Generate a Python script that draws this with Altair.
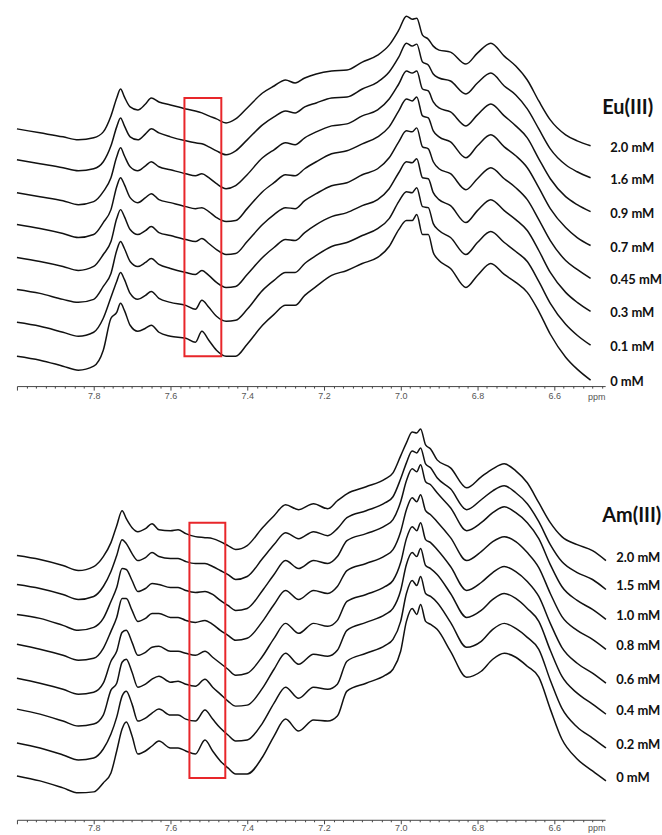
import altair as alt
import pandas as pd

# ---------------- Eu(III) panel data ----------------
EU_PPM = [8.00, 7.94, 7.88, 7.84, 7.80, 7.775, 7.755, 7.74, 7.73, 7.72, 7.705, 7.685, 7.665, 7.65, 7.63,
          7.60, 7.56, 7.535, 7.518, 7.50, 7.48, 7.455, 7.43, 7.40, 7.36, 7.33, 7.30, 7.275, 7.25, 7.22,
          7.18, 7.14, 7.10, 7.06, 7.03, 7.005, 6.985, 6.97, 6.958, 6.943, 6.928, 6.915, 6.90, 6.87, 6.83,
          6.80, 6.765, 6.73, 6.70, 6.67, 6.64, 6.61, 6.57, 6.54, 6.505]
EU_LABELS = ["2.0 mM", "1.6 mM", "0.9 mM", "0.7 mM", "0.45 mM", "0.3 mM", "0.1 mM", "0 mM"]
EU_OFFSETS = [241, 209, 175, 141, 108, 75, 41, 6]
EU_2_0 = [17, 13, 9, 6, 8, 14, 30, 48, 57, 49, 39, 36, 42, 48, 44, 41, 37, 35, 33, 30, 27, 23, 27, 38, 53,
          60, 66, 63, 68, 72, 75, 76, 84, 91, 101, 116, 130, 127, 128, 111, 107, 100, 96, 94, 82, 93, 103,
          90, 80, 66, 45, 26, 11, 5, 0]
EU_1_6 = [18, 14, 10, 7, 9, 16, 32, 51, 60, 52, 41, 38, 44, 49, 45, 41, 37, 35, 34, 31, 27, 23, 27, 38, 53,
          61, 67, 65, 71, 75, 80, 81, 89, 96, 106, 121, 135, 132, 134, 116, 113, 104, 100, 97, 84, 95, 105,
          92, 83, 69, 49, 29, 13, 6, 0]
EU_0_9 = [19, 15, 11, 7, 10, 20, 34, 55, 64, 56, 45, 41, 46, 50, 45, 42, 38, 36, 38, 34, 28, 23, 26, 37, 54,
          62, 69, 67, 74, 80, 86, 88, 96, 102, 113, 128, 141, 139, 141, 123, 121, 110, 104, 100, 86, 97, 108,
          96, 86, 74, 53, 33, 15, 7, 0]
EU_0_7 = [21, 17, 12, 8, 11, 23, 36, 59, 68, 61, 48, 43, 48, 52, 46, 43, 39, 37, 38, 34, 28, 24, 25, 37, 54,
          63, 71, 70, 77, 84, 92, 95, 102, 109, 119, 135, 147, 145, 149, 130, 128, 115, 109, 104, 88, 100, 111,
          99, 90, 78, 58, 37, 18, 8, 0]
EU_0_45 = [21, 17, 12, 8, 12, 24, 37, 60, 69, 62, 49, 44, 48, 52, 46, 43, 39, 37, 40, 35, 29, 24, 25, 37, 54,
           64, 71, 70, 78, 85, 93, 96, 104, 110, 121, 137, 148, 147, 151, 132, 130, 117, 110, 105, 89, 100, 111,
           100, 91, 79, 59, 38, 18, 9, 0]
EU_0_3 = [22, 18, 12, 9, 12, 25, 38, 61, 70, 63, 50, 45, 49, 53, 47, 43, 39, 37, 41, 36, 29, 24, 25, 37, 54,
          64, 72, 71, 79, 87, 95, 99, 106, 112, 123, 139, 150, 149, 153, 134, 133, 119, 112, 106, 89, 101, 112,
          101, 92, 81, 61, 39, 19, 9, 0]
EU_0_1 = [23, 19, 13, 9, 13, 27, 48, 64, 73, 66, 52, 46, 50, 54, 47, 43, 40, 36, 45, 38, 29, 24, 25, 36, 55,
          65, 73, 73, 82, 90, 99, 103, 110, 117, 127, 144, 154, 153, 158, 139, 138, 122, 115, 108, 91, 103, 114,
          103, 94, 84, 64, 42, 21, 10, 0]
EU_0 = [24, 20, 14, 10, 14, 30, 62, 68, 77, 70, 55, 49, 52, 55, 48, 44, 42, 38, 49, 40, 30, 24, 24, 36, 55,
        66, 75, 75, 85, 94, 105, 110, 117, 123, 134, 151, 160, 160, 166, 146, 146, 128, 120, 112, 93, 105, 117,
        106, 98, 88, 69, 46, 23, 11, 0]
EU_SPECTRA = [EU_2_0, EU_1_6, EU_0_9, EU_0_7, EU_0_45, EU_0_3, EU_0_1, EU_0]
EU_BOX_PPM = [7.5635, 7.4674]
EU_BOX_INT = [30, 289]

# ---------------- Am(III) panel data ----------------
AM_PPM = [8.00, 7.94, 7.88, 7.84, 7.80, 7.775, 7.755, 7.74, 7.726, 7.715, 7.70, 7.685, 7.665, 7.648, 7.63,
          7.60, 7.58, 7.56, 7.535, 7.51, 7.49, 7.47, 7.45, 7.43, 7.40, 7.36, 7.33, 7.30, 7.266, 7.227,
          7.19, 7.165, 7.14, 7.09, 7.04, 7.02, 7.00, 6.985, 6.97, 6.958, 6.948, 6.935, 6.922, 6.905, 6.87,
          6.828, 6.79, 6.76, 6.73, 6.70, 6.67, 6.64, 6.61, 6.58, 6.54, 6.50, 6.465]
AM_LABELS = ["2.0 mM", "1.5 mM", "1.0 mM", "0.8 mM", "0.6 mM", "0.4 mM", "0.2 mM", "0 mM"]
AM_OFFSETS = [260, 231, 201, 171, 137, 106, 72, 39]
AM_2_0 = [5, 1, -5, -10, -6, 4, 18, 35, 50, 42, 33, 29, 32, 37, 31, 30, 31, 27, 24, 23, 22, 19, 15, 11, 15,
          33, 45, 56, 51, 57, 52, 60, 67, 74, 82, 88, 105, 118, 129, 128, 132, 116, 112, 101, 93, 73, 84, 92,
          97, 90, 78, 58, 38, 24, 16, 10, 0]
AM_1_5 = [5, 1, -5, -10, -7, 3, 18, 34, 50, 46, 36, 29, 32, 37, 33, 31, 31, 28, 26, 26, 23, 19, 15, 10, 13,
          31, 45, 57, 51, 58, 54, 61, 72, 79, 87, 93, 111, 127, 139, 137, 142, 126, 122, 112, 101, 80, 90, 99,
          104, 97, 86, 68, 45, 28, 17, 10, 0]
AM_1_0 = [5, 1, -6, -11, -8, 1, 18, 32, 51, 50, 39, 28, 31, 36, 35, 32, 32, 29, 27, 28, 25, 19, 14, 9, 11,
          29, 45, 59, 51, 59, 56, 63, 79, 86, 94, 100, 118, 139, 151, 148, 155, 138, 135, 127, 112, 89, 97, 107,
          113, 107, 97, 81, 55, 33, 19, 10, 0]
AM_0_8 = [5, 0, -6, -11, -9, 1, 18, 32, 51, 51, 39, 28, 31, 36, 36, 32, 32, 29, 27, 29, 25, 19, 14, 9, 11,
          28, 45, 59, 50, 59, 56, 63, 79, 86, 94, 100, 118, 140, 152, 148, 155, 139, 135, 128, 112, 89, 98, 108,
          113, 108, 97, 82, 56, 33, 19, 10, 0]
AM_0_6 = [5, 0, -6, -11, -9, 0, 22, 32, 51, 53, 41, 28, 31, 36, 37, 32, 32, 30, 28, 32, 26, 20, 14, 8, 10,
          27, 45, 60, 50, 60, 57, 63, 82, 89, 97, 103, 121, 145, 157, 153, 161, 144, 141, 134, 117, 93, 101, 111,
          117, 112, 102, 87, 60, 36, 20, 10, 0]
AM_0_4 = [5, 0, -7, -12, -10, -1, 24, 31, 52, 55, 42, 27, 30, 35, 38, 32, 33, 30, 28, 35, 27, 20, 13, 8, 9,
          26, 45, 61, 50, 60, 58, 64, 84, 92, 100, 106, 124, 150, 162, 158, 166, 149, 146, 140, 121, 97, 104, 115,
          121, 116, 106, 93, 64, 38, 21, 10, 0]
AM_0_2 = [5, 0, -7, -12, -10, -1, 14, 31, 52, 57, 44, 27, 30, 35, 39, 33, 33, 29, 27, 38, 29, 20, 13, 7, 8,
          25, 45, 61, 50, 61, 59, 64, 87, 95, 103, 109, 127, 155, 168, 163, 172, 155, 152, 146, 126, 101, 107, 119,
          125, 120, 111, 99, 68, 40, 21, 10, 0]
AM_0 = [5, 0, -7, -12, -11, -2, 8, 30, 52, 59, 45, 27, 30, 35, 40, 33, 33, 30, 27, 41, 30, 20, 13, 7, 7,
        24, 45, 62, 50, 61, 60, 65, 90, 98, 106, 112, 130, 160, 173, 167, 177, 160, 157, 152, 130, 104, 110, 122,
        128, 124, 115, 104, 72, 42, 22, 10, 0]
AM_SPECTRA = [AM_2_0, AM_1_5, AM_1_0, AM_0_8, AM_0_6, AM_0_4, AM_0_2, AM_0]
AM_BOX_PPM = [7.5505, 7.457]
AM_BOX_INT = [42, 298]

X_DOMAIN = [6.467, 8.0]
MAJOR_TICKS = [8.0, 7.8, 7.6, 7.4, 7.2, 7.0, 6.8, 6.6]
MINOR_TICKS = [round(8.0 - 0.025 * i, 3) for i in range(62) if i % 8 != 0]
PLOT_W = 590


def major_axis(label_pad, title_y):
    return alt.Axis(
        values=MAJOR_TICKS, orient="bottom",
        labelExpr="datum.value < 7.9 ? format(datum.value, '.1f') : ''",
        tickSize=4,
        domainColor="#444", tickColor="#444", tickWidth=1, domainWidth=1,
        labelColor="#555", labelFont="Liberation Sans", labelFontSize=9, labelPadding=label_pad,
        labelFlush=False, labelOverlap=False, grid=False,
        title="ppm", titleX=581, titleY=title_y, titleBaseline="middle", titleAlign="center",
        titleFont="Liberation Sans", titleFontSize=9, titleFontWeight="normal", titleColor="#555",
    )


def minor_axis():
    return alt.Axis(
        values=MINOR_TICKS, orient="bottom", labels=False, domain=False, grid=False,
        tickSize=2, tickColor="#444", tickWidth=1, title=None,
    )


def panel(ppm, spectra, labels, offsets, box_ppm, box_int, name, height, name_y, label_x, label_dy,
          label_pad, title_y):
    rows = []
    for lab, off, spec in zip(labels, offsets, spectra):
        for p, v in zip(ppm, spec):
            rows.append({"trace": lab, "ppm": p, "intensity": v, "offset": off})
    df = pd.DataFrame(rows)
    xscale = alt.Scale(domain=X_DOMAIN, reverse=True, nice=False, zero=False)
    yscale = alt.Scale(domain=[0, height], nice=False, zero=False)

    lines = alt.Chart(df).transform_calculate(
        shifted="datum.intensity + datum.offset"
    ).mark_line(color="#111111", strokeWidth=1.5, interpolate="monotone", clip=False).encode(
        x=alt.X("ppm:Q", scale=xscale, axis=major_axis(label_pad, title_y)),
        y=alt.Y("shifted:Q", scale=yscale, axis=None),
        detail="trace:N",
    )

    box_df = pd.DataFrame({"x": [box_ppm[0]], "x2": [box_ppm[1]], "y": [box_int[0]], "y2": [box_int[1]]})
    box = alt.Chart(box_df).mark_rect(fillOpacity=0, stroke="#e8262a", strokeWidth=2).encode(
        x=alt.X("x:Q", scale=xscale, axis=major_axis(label_pad, title_y)), x2="x2:Q",
        y=alt.Y("y:Q", scale=yscale, axis=None), y2="y2:Q"
    )

    lab_df = pd.DataFrame({"label": labels, "offset": offsets})
    texts = alt.Chart(lab_df).mark_text(
        align="left", baseline="middle", dy=label_dy, font="Lato", fontWeight="bold", fontSize=13, color="#111"
    ).encode(x=alt.value(label_x), y=alt.Y("offset:Q", scale=yscale, axis=None), text="label:N")

    title = alt.Chart(pd.DataFrame({"name": [name]})).mark_text(
        align="left", baseline="middle", font="Lato", fontWeight="bold", fontSize=20, color="#111"
    ).encode(x=alt.value(PLOT_W - 3), y=alt.value(name_y), text="name:N")

    main = alt.layer(lines, box, texts, title)

    minor = alt.Chart(box_df).mark_point(opacity=0).encode(
        x=alt.X("x:Q", scale=xscale, axis=minor_axis()),
        y=alt.Y("y:Q", scale=yscale, axis=None),
    )

    return alt.layer(main, minor).resolve_axis(x="independent").properties(width=PLOT_W, height=height)


top = panel(EU_PPM, EU_SPECTRA, EU_LABELS, EU_OFFSETS, EU_BOX_PPM, EU_BOX_INT, "Eu(III)", 386, 107, 595, 2,
            1, 10)
bottom = panel(AM_PPM, AM_SPECTRA, AM_LABELS, AM_OFFSETS, AM_BOX_PPM, AM_BOX_INT, "Am(III)", 404, 99, 601, -3,
               0, 8)

chart = alt.vconcat(top, bottom, spacing=16).properties(
    padding={"left": 14, "top": 0, "right": 0, "bottom": 0}, background="white"
).configure_view(stroke=None)

chart.save("out.html", embed_options={"renderer": "svg", "actions": False})
